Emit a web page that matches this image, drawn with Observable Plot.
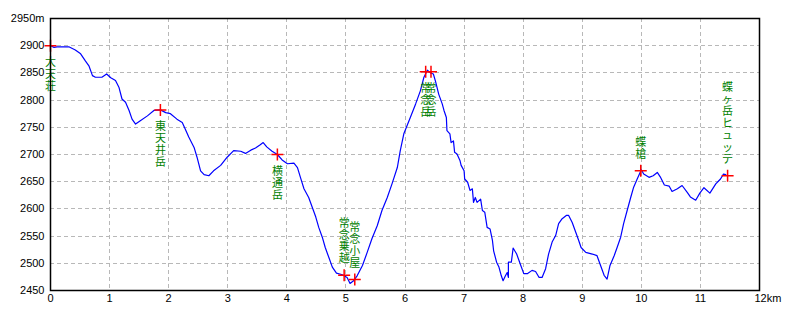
<!DOCTYPE html>
<html>
<head>
<meta charset="utf-8">
<script src="https://cdn.jsdelivr.net/npm/d3@7"></script>
<script src="https://cdn.jsdelivr.net/npm/@observablehq/plot@0.6"></script>
<style>
  html, body { margin: 0; padding: 0; background: #fff; }
  #chart svg { display: block; }
</style>
</head>
<body>
<div id="chart"></div>
<script>
// Profile: distance (km) and elevation (m)
const dist = [0,0.06,0.11,0.31,0.42,0.51,0.59,0.65,0.71,0.76,0.87,0.95,1.02,1.10,1.16,1.21,1.27,1.33,1.38,1.44,1.52,1.64,1.75,1.86,1.95,2.03,2.14,2.23,2.28,2.34,2.43,2.48,2.54,2.60,2.68,2.76,2.88,2.99,3.10,3.22,3.30,3.39,3.47,3.55,3.60,3.66,3.75,3.84,3.92,4.01,4.12,4.18,4.23,4.29,4.37,4.43,4.49,4.54,4.60,4.65,4.71,4.77,4.84,4.94,5.02,5.07,5.13,5.19,5.28,5.36,5.44,5.53,5.61,5.70,5.78,5.87,5.92,5.98,6.09,6.18,6.26,6.32,6.38,6.43,6.48,6.52,6.57,6.63,6.66,6.70,6.71,6.76,6.78,6.82,6.84,6.88,6.93,6.95,7.00,7.01,7.06,7.10,7.14,7.16,7.19,7.22,7.28,7.31,7.35,7.39,7.44,7.48,7.50,7.55,7.59,7.63,7.66,7.70,7.73,7.75,7.75,7.80,7.83,7.89,7.96,8.01,8.07,8.15,8.21,8.27,8.32,8.38,8.43,8.49,8.55,8.60,8.66,8.73,8.77,8.83,8.89,8.94,8.98,9.06,9.17,9.25,9.31,9.37,9.42,9.47,9.54,9.59,9.65,9.70,9.76,9.82,9.87,9.93,10.00,10.04,10.13,10.20,10.27,10.32,10.39,10.47,10.52,10.61,10.69,10.78,10.83,10.92,10.99,11.06,11.16,11.26,11.34,11.39,11.43];
const elev = [2900,2897,2898,2898,2892,2885,2872,2863,2845,2842,2842,2848,2841,2836,2823,2802,2796,2781,2765,2756,2762,2771,2781,2782,2777,2775,2765,2759,2747,2732,2713,2695,2670,2663,2661,2670,2680,2695,2707,2706,2702,2708,2712,2718,2722,2714,2706,2700,2690,2683,2684,2676,2658,2637,2621,2603,2585,2566,2548,2529,2511,2493,2482,2479,2474,2463,2468,2477,2496,2520,2545,2569,2597,2621,2646,2676,2707,2738,2768,2793,2817,2842,2855,2850,2848,2833,2811,2793,2781,2768,2744,2738,2722,2725,2704,2701,2689,2680,2670,2655,2649,2634,2637,2612,2621,2612,2618,2597,2594,2566,2563,2542,2523,2502,2493,2477,2468,2477,2483,2474,2502,2502,2528,2517,2496,2481,2481,2487,2485,2474,2474,2490,2517,2539,2551,2573,2582,2588,2588,2575,2557,2542,2529,2520,2517,2514,2496,2478,2471,2496,2514,2529,2548,2573,2597,2621,2640,2655,2672,2664,2658,2661,2667,2659,2644,2642,2632,2637,2643,2630,2622,2616,2629,2639,2629,2646,2655,2664,2663];

// Waypoints
const wpNames = ["大天荘","東天井岳","横通岳","常念乗越","常念小屋","常念岳","常念岳","蝶槍","蝶ヶ岳ヒュッテ"];
const wpDist  = [0, 1.86, 3.84, 4.97, 5.15, 6.35, 6.44, 9.99, 11.46];
const wpElev  = [2900, 2782, 2700, 2478, 2470, 2852, 2852, 2670, 2661];
const wpSide  = ["below","below","below","above","above","below","below","above","above"];

// Ticks
const xTicks = [0,1,2,3,4,5,6,7,8,9,10,11];
const xLastTick = [12];
const yTicks = [2450,2500,2550,2600,2650,2700,2750,2800,2850,2900,2950];

const profile = dist.map((d, i) => ({d, e: elev[i]}));
const wps = wpNames.map((n, i) => ({
  name: n, d: wpDist[i], e: wpElev[i], side: wpSide[i],
  label: Array.from(n).join("\n")
}));

const cross = {
  draw(ctx, size) {
    const r = Math.sqrt(size / Math.PI);
    ctx.moveTo(-r, 0); ctx.lineTo(r, 0);
    ctx.moveTo(0, -r); ctx.lineTo(0, r);
  }
};

const fontAxis = "'Liberation Sans', Arial, sans-serif";
const fontJP = "'Noto Sans CJK JP', sans-serif";

const chart = Plot.plot({
  width: 800,
  height: 320,
  marginLeft: 50,
  marginRight: 41,
  marginTop: 18,
  marginBottom: 30,
  style: {background: "#fff", fontFamily: fontAxis, fontSize: "11px", color: "#000"},
  x: {domain: [0, 12]},
  y: {domain: [2450, 2950]},
  marks: [
    Plot.gridX(xTicks.concat(xLastTick), {stroke: "#b8b8b8", strokeOpacity: 1, strokeDasharray: "4,3", shapeRendering: "crispEdges"}),
    Plot.gridY(yTicks, {stroke: "#b8b8b8", strokeOpacity: 1, strokeDasharray: "4,3", shapeRendering: "crispEdges"}),
    Plot.axisY(yTicks, {tickSize: 0, tickPadding: 6, fontSize: 11, fill: "#000",
      tickFormat: d => d === 2950 ? "2950m" : String(d), label: null}),
    Plot.axisX(xTicks, {tickSize: 0, tickPadding: 4, fontSize: 11, fill: "#000", label: null}),
    Plot.axisX(xLastTick, {tickSize: 0, tickPadding: 4, fontSize: 11, fill: "#000", label: null,
      tickFormat: () => "12km", textAnchor: "start", dx: -5}),
    Plot.line(profile, {x: "d", y: "e", stroke: "#0000ff", strokeWidth: 1.2}),
    Plot.text(wps.filter(w => w.side === "below"), {x: "d", y: "e", text: "label",
      lineAnchor: "top", dy: 12, lineHeight: 1.08, fontSize: 11, fill: "#008000", fontFamily: fontJP}),
    Plot.text(wps.filter(w => w.side === "above"), {x: "d", y: "e", text: "label",
      lineAnchor: "bottom", dy: -13, lineHeight: 1.08, fontSize: 11, fill: "#008000", fontFamily: fontJP}),
    Plot.dot(wps, {x: "d", y: "e", symbol: cross, r: 6, stroke: "#ff0000", strokeWidth: 1.5, fill: "none"}),
    Plot.frame({stroke: "#000", strokeWidth: 1.5})
  ]
});
document.getElementById("chart").appendChild(chart);
</script>
</body>
</html>
